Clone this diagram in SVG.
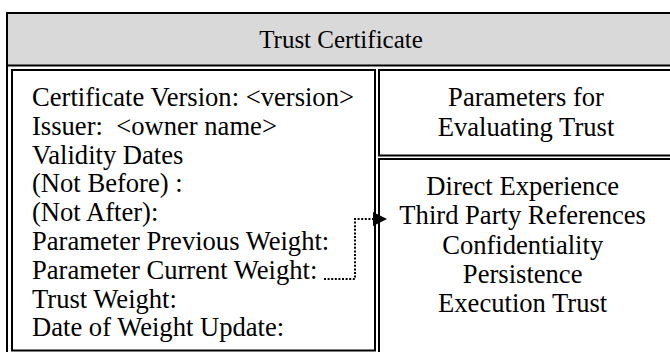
<svg xmlns="http://www.w3.org/2000/svg" width="670" height="352" viewBox="0 0 670 352">
<style>
.t{font-family:"Liberation Serif","Times New Roman",serif;font-size:26.6px;fill:#000;white-space:pre}
.h{font-size:25px}
.c{text-anchor:middle}
.b{fill:none;stroke:#000;stroke-width:2}
.d{fill:none;stroke:#000;stroke-width:2;stroke-dasharray:2 1.6}
</style>
<defs>
<marker id="ah" markerUnits="userSpaceOnUse" markerWidth="15" markerHeight="15" refX="0" refY="7" orient="auto">
<path d="M0,0 L14,7 L0,14 z" fill="#000"/>
</marker>
</defs>
<rect width="670" height="352" fill="#fff"/>
<g id="table">
<rect x="7" y="13" width="700" height="400" class="b"/>
</g>
<g id="header">
<rect x="8" y="14" width="700" height="51" fill="#d9d9d9"/>
<line x1="7" y1="65.5" x2="700" y2="65.5" stroke="#000" stroke-width="2"/>
<text x="341" y="48" class="t h c">Trust Certificate</text>
</g>
<g id="certificate-fields">
<rect x="12" y="70" width="363" height="280.5" class="b"/>
<text class="t" x="32">
<tspan x="32" y="106">Certificate Version: &lt;version&gt;</tspan>
<tspan x="32" y="134.8">Issuer:  &lt;owner name&gt;</tspan>
<tspan x="32" y="163.6">Validity Dates</tspan>
<tspan x="32" y="192.4">(Not Before) :</tspan>
<tspan x="32" y="221.2">(Not After):</tspan>
<tspan x="32" y="250">Parameter Previous Weight:</tspan>
<tspan x="32" y="278.8">Parameter Current Weight:</tspan>
<tspan x="32" y="307.6">Trust Weight:</tspan>
<tspan x="32" y="336.4">Date of Weight Update:</tspan>
</text>
</g>
<g id="parameters-title">
<rect x="379" y="70" width="320" height="85.5" class="b"/>
<text class="t c"><tspan x="526" y="106">Parameters for</tspan><tspan x="526" y="136">Evaluating Trust</tspan></text>
</g>
<g id="parameters-list">
<rect x="379" y="159" width="320" height="250" class="b"/>
<text class="t c">
<tspan x="526" y="195">Direct Experience</tspan>
<tspan x="526" y="224.3">Third Party References</tspan>
<tspan x="526" y="253.6">Confidentiality</tspan>
<tspan x="526" y="282.9">Persistence</tspan>
<tspan x="526" y="312.2">Execution Trust</tspan>
</text>
</g>
<g id="connectors">
<path d="M324,279 H355 V219 H373" class="d" marker-end="url(#ah)"/>
</g>
</svg>
